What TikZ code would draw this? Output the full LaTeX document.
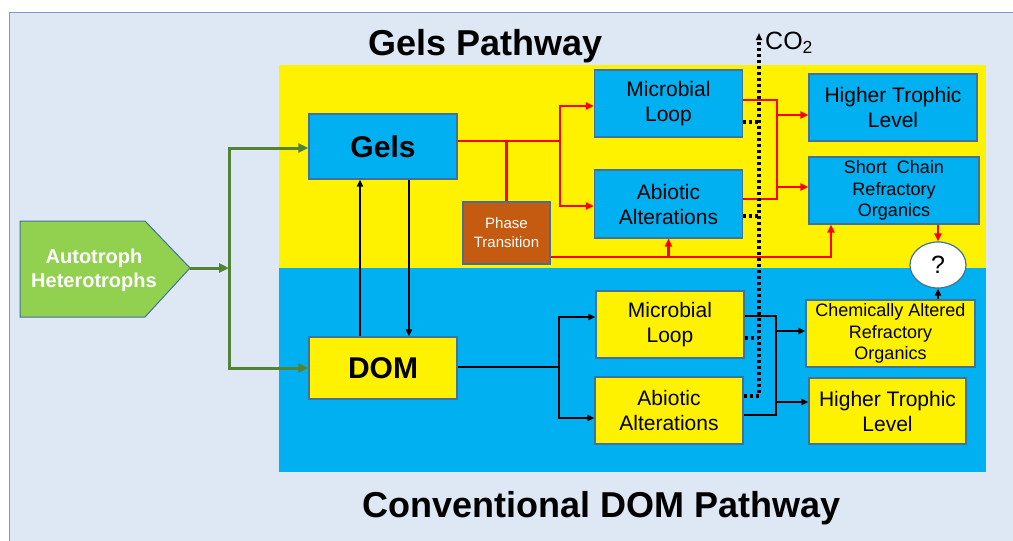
\documentclass[tikz,border=0pt]{standalone}
\usepackage{fontspec}
\setmainfont{Liberation Sans}
\usepackage{xcolor}
\usetikzlibrary{arrows.meta,shapes.geometric}

\definecolor{paneblue}{HTML}{DEE8F4}
\definecolor{frameblue}{HTML}{7F9CC9}
\definecolor{skyblue}{HTML}{00B0F0}
\definecolor{boxedge}{HTML}{41719C}
\definecolor{leafgreen}{HTML}{92D050}
\definecolor{stemgreen}{HTML}{548235}
\definecolor{rust}{HTML}{C55A11}

\begin{document}
\begin{tikzpicture}[
  x=1pt,
  y=-1pt,
  box/.style={draw=boxedge, line width=1.2pt, minimum width=148, minimum height=67, align=center, inner sep=2pt},
  gelbox/.style={box, fill=skyblue},
  dombox/.style={box, fill=yellow},
  midtext/.style={font=\fontsize{21}{25}\selectfont},
  smalltext/.style={font=\fontsize{18}{21.5}\selectfont},
  bigbold/.style={font=\fontsize{30}{36}\selectfont\bfseries},
  title/.style={font=\fontsize{36}{42}\selectfont\bfseries, anchor=base},
  autotext/.style={font=\fontsize{20}{24}\selectfont\bfseries, text=white, align=center},
  phasebox/.style={draw=boxedge, line width=1.2pt, fill=rust, text=white, align=center,
    minimum width=87, minimum height=62, font=\fontsize{15}{19}\selectfont},
  quest/.style={ellipse, draw=boxedge, line width=1.2pt, fill=white, minimum width=56,
    minimum height=46, inner sep=0pt, font=\fontsize{25}{28}\selectfont},
  redline/.style={red, line width=2.6pt},
  redarrow/.style={redline, -{Triangle[length=8pt,width=7pt]}},
  blackline/.style={black, line width=2.2pt},
  blackarrow/.style={blackline, -{Triangle[length=7pt,width=6pt]}},
  greenarrow/.style={stemgreen, line width=3pt, -{Triangle[length=10pt,width=9pt]}},
  dotline/.style={black, line width=3.2pt, dash pattern=on 3pt off 3pt},
  dotarrow/.style={dotline, -{Triangle[length=7pt,width=6pt,sep=0pt]}}
]
  \useasboundingbox (0,0) rectangle (1013,541);
  \fill[white] (0,0) rectangle (1013,541);
  \fill[paneblue] (9,12) rectangle (1013,541);
  \draw[frameblue, line width=1pt] (9,541) -- (9,12) -- (1013,12);
  \fill[yellow] (279,65) rectangle (986,268);
  \fill[skyblue] (279,268) rectangle (986,472);

  \node[title] (gelstitle) at (485.5,55) {Gels Pathway};
  \node[title] (domtitle) at (601.5,517) {Conventional DOM Pathway};

  \draw[fill=leafgreen, draw=boxedge, line width=1pt]
    (20,221) -- (145,221) -- (190,268) -- (145,317) -- (20,317) -- cycle;
  \node[autotext] (auto) at (94,270) {Autotroph\\Heterotrophs};
  \coordinate (autotip) at (190,268);
  \coordinate (greensplit) at (229,268);

  \node[gelbox, bigbold, minimum height=65] (gels) at (383,146.5) {Gels};
  \node[dombox, bigbold, minimum height=62] (dom) at (383,368) {DOM};
  \node[phasebox] (phase) at (506.5,233) {Phase\\Transition};

  \node[gelbox, midtext] (gelsloop) at (668.5,103.5) {Microbial\\Loop};
  \node[gelbox, midtext, minimum height=68] (gelsabio) at (668.5,204) {Abiotic\\Alterations};
  \node[gelbox, midtext, minimum width=168] (gelshtl) at (893,107.5) {Higher Trophic\\Level};
  \node[gelbox, smalltext, minimum width=170] (gelsrefr) at (894,190.5) {Short\ \ Chain\\Refractory\\Organics};
  \node[quest] (quest) at (938,265) {?};

  \node[dombox, midtext] (domloop) at (670,324.5) {Microbial\\Loop};
  \node[dombox, midtext] (domabio) at (669,410.5) {Abiotic\\Alterations};
  \node[dombox, smalltext, minimum width=169] (domrefr) at (890.5,333.5) {Chemically Altered\\Refractory\\Organics};
  \node[dombox, midtext, minimum width=157, minimum height=66] (domhtl) at (887.5,411) {Higher Trophic\\Level};

  \draw[greenarrow] (autotip) -- (greensplit);
  \draw[greenarrow] (greensplit) |- (gels.west |- 0,148);
  \draw[greenarrow] (greensplit) |- (dom.west);

  \draw[blackarrow] ([xshift=-23pt]dom.north) -- ([xshift=-23pt]gels.south);
  \draw[blackarrow] ([xshift=26pt]gels.south) -- ([xshift=26pt]dom.north);

  \coordinate (redsplit) at (560,141);
  \coordinate (redjoin) at (777,150);
  \draw[redline] (gels.east |- 0,141) -- (redsplit);
  \draw[redline] (phase.north) -- (phase.north |- redsplit);
  \draw[redarrow] (redsplit) |- (gelsloop.west |- 0,106);
  \draw[redarrow] (redsplit) |- (gelsabio.west |- 0,206);
  \draw[redline] (gelsloop.east |- 0,100) -| (redjoin) |- (gelsabio.east |- 0,199);
  \draw[redarrow] (redjoin |- 0,115) -- (gelshtl.west |- 0,115);
  \draw[redarrow] (redjoin |- 0,187) -- (gelsrefr.west |- 0,187);
  \draw[redarrow] (phase.east |- 0,257) -| (gelsrefr.south -| 831,0);
  \draw[redarrow] (gelsabio.south |- 0,257) -- (gelsabio.south);
  \draw[redarrow] (gelsrefr.south -| quest.north) -- (quest.north);

  \coordinate (co2top) at (759,33);
  \draw[dotarrow] (domabio.east |- 0,396) -| (co2top);
  \draw[dotline] (gelsloop.east |- 0,122) -- (co2top |- 0,122);
  \draw[dotline] (gelsabio.east |- 0,216) -- (co2top |- 0,216);
  \draw[dotline] (domloop.east |- 0,338) -- (co2top |- 0,338);
  \node[font=\fontsize{25}{28}\selectfont, anchor=west, inner sep=0pt] (co2) at (765,43) {CO\textsubscript{2}};

  \coordinate (blacksplit) at (559,367);
  \coordinate (blackjoin) at (776,365);
  \draw[blackline] (dom.east |- 0,367) -- (blacksplit);
  \draw[blackarrow] (blacksplit) |- (domloop.west |- 0,317);
  \draw[blackarrow] (blacksplit) |- (domabio.west |- 0,418);
  \draw[blackline] (domloop.east |- 0,316) -| (blackjoin) |- (domabio.east |- 0,415);
  \draw[blackarrow] (blackjoin |- 0,331) -- (domrefr.west |- 0,331);
  \draw[blackarrow] (blackjoin |- 0,402) -- (domhtl.west |- 0,402);
  \draw[blackarrow] (domrefr.north -| quest.south) -- (quest.south);
\end{tikzpicture}
\end{document}
